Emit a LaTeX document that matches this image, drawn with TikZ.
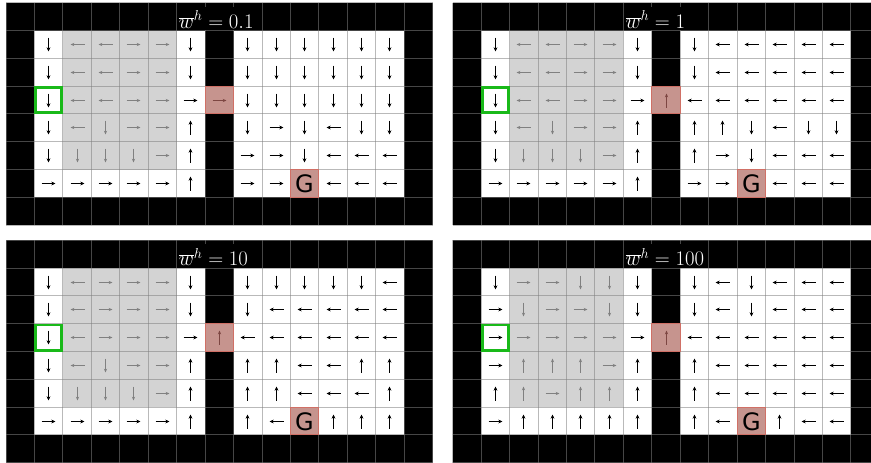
\documentclass[tikz,border=0pt]{standalone}
\usepackage{fontspec}
\newfontfamily\gfont{DejaVu Sans}
\usetikzlibrary{arrows.meta}
\definecolor{roomgray}{RGB}{211,211,211}
\definecolor{gridc}{RGB}{128,128,128}
\definecolor{pinkc}{RGB}{198,148,142}
\definecolor{pinkb}{RGB}{208,112,102}
\definecolor{startg}{RGB}{25,185,25}
\definecolor{doorarr}{RGB}{125,70,66}
\definecolor{graya}{RGB}{128,128,128}
\tikzset{
  x=1pt, y=-1pt,
  blk/.style={line width=1.1pt, black, -{Stealth[length=4.2pt,width=3.8pt]}},
  gry/.style={line width=0.8pt, graya, -{Stealth[length=3.8pt,width=3.2pt]}},
  doorstyle/.style={line width=0.8pt, doorarr, -{Stealth[length=3.8pt,width=3.2pt]}},
  gridline/.style={gridc, opacity=0.55, line width=0.9pt},
  goaltext/.style={font=\gfont\fontsize{24}{26}\selectfont, inner sep=0pt, text=black},
  titletext/.style={font=\fontsize{22}{26}\selectfont, text=white, fill=black, inner xsep=0.5pt, inner ysep=0pt, text height=21.6pt, text depth=2pt, anchor=base west},
}
\def\W{28.44}
\def\H{27.8}
\newcommand\cellarrow[5]{%
  \if#1d\draw[#4] (#2,#3-7) -- (#2,#3+7);\fi
  \if#1u\draw[#4] (#2,#3+7) -- (#2,#3-7);\fi
  \if#1l\draw[#4] (#2+7,#3) -- (#2-7,#3);\fi
  \if#1r\draw[#4] (#2-7,#3) -- (#2+7,#3);\fi
  \if#1G\node[goaltext] (goal-#5) at (#2,#3+0.5) {G};\fi
}
\newcommand\gridpanel[6]{%
  \begin{scope}[shift={(#1,#2)}]
    \fill[black] (0,0) rectangle (15*\W,8*\H);
    \fill[white] (\W,\H) rectangle (7*\W,7*\H);
    \fill[white] (8*\W,\H) rectangle (14*\W,7*\H);
    \fill[roomgray] (2*\W,\H) rectangle (6*\W,6*\H);
    \fill[pinkc] (7*\W,3*\H) rectangle (8*\W,4*\H);
    \fill[pinkc] (10*\W,6*\H) rectangle (11*\W,7*\H);
    \foreach \gi in {0,...,15} \draw[gridline] (\gi*\W,0) -- (\gi*\W,8*\H);
    \foreach \gj in {0,...,8} \draw[gridline] (0,\gj*\H) -- (15*\W,\gj*\H);
    \draw[pinkb, line width=0.9pt] (7*\W,3*\H) rectangle (8*\W,4*\H);
    \draw[pinkb, line width=0.9pt] (10*\W,6*\H) rectangle (11*\W,7*\H);
    \draw[startg, line width=2.6pt] (\W+1.3,3*\H+1.3) rectangle (2*\W-1.3,4*\H-1.3);
    \pgfmathsetmacro\dx{floor(#1+7.5*\W)+0.5-#1}
    \pgfmathsetmacro\dy{floor(#2+3.5*\H)+0.5-#2}
    \cellarrow{#4}{\dx}{\dy}{doorstyle}{#6}
    \foreach \rowlist [count=\ri] in {#5} {
      \foreach \dir [count=\ci] in \rowlist {
        \pgfmathtruncatemacro\col{\ci>6 ? \ci+1 : \ci}
        \pgfmathtruncatemacro\isg{(\ci>=2)&&(\ci<=5)&&(\ri<=5)}
        \pgfmathsetmacro\cx{floor(#1+(\col+0.5)*\W)+0.5-#1}
        \pgfmathsetmacro\cy{floor(#2+(\ri+0.5)*\H)+0.5-#2}
        \ifnum\isg=1 \tikzset{cur/.style={gry}}\else\tikzset{cur/.style={blk}}\fi
        \cellarrow{\dir}{\cx}{\cy}{cur}{#6}
      }
    }
    \node[titletext] (title-#6) at (6*\W+1.5,25.6) {$\overline{w}^h=#3$};
  \end{scope}
}
\begin{document}
\begin{tikzpicture}
\useasboundingbox (0,0) rectangle (871,463);
\fill[white] (0,0) rectangle (871,463);
\clip (0,0) rectangle (871,463);
\gridpanel{6}{2.7}{0.1}{r}{%
 {d,l,l,r,r,d,d,d,d,d,d,d},
 {d,l,l,r,r,d,d,d,d,d,d,d},
 {d,l,l,r,r,r,d,d,d,d,d,d},
 {d,l,d,r,r,u,d,r,d,l,d,d},
 {d,d,d,d,r,u,r,r,d,l,l,l},
 {r,r,r,r,r,u,r,r,G,l,l,l}}{a}
\gridpanel{452.7}{2.7}{1}{u}{%
 {d,l,l,r,r,d,d,l,l,l,l,l},
 {d,l,l,r,r,d,d,l,l,l,l,l},
 {d,l,l,r,r,r,l,l,l,l,l,l},
 {d,l,d,r,r,u,u,u,d,l,d,d},
 {d,d,d,d,r,u,u,r,d,l,l,l},
 {r,r,r,r,r,u,r,r,G,l,l,l}}{b}
\gridpanel{6}{240.3}{10}{u}{%
 {d,l,r,r,r,d,d,d,d,d,d,l},
 {d,l,r,r,r,d,d,l,l,l,l,l},
 {d,l,r,r,r,r,l,l,l,l,l,l},
 {d,l,d,r,r,u,u,u,l,l,u,u},
 {d,d,d,d,r,u,u,u,l,l,l,u},
 {r,r,r,r,r,u,u,l,G,u,u,u}}{c}
\gridpanel{452.7}{240.3}{100}{u}{%
 {d,r,r,d,d,d,d,l,d,l,l,l},
 {r,d,r,r,d,d,d,l,d,l,l,l},
 {r,r,r,r,r,r,l,l,l,l,l,l},
 {r,u,u,u,r,u,u,l,l,l,l,l},
 {u,u,r,u,u,u,u,l,l,l,l,l},
 {r,u,u,u,u,u,u,l,G,u,l,l}}{d}
\end{tikzpicture}
\end{document}
